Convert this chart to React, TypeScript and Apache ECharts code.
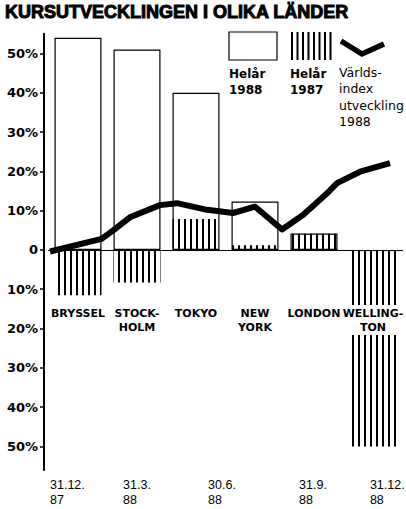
import React, { useEffect, useRef } from "react";
import * as echarts from "echarts";

const title = "KURSUTVECKLINGEN I OLIKA LÄNDER";
const categories = ["BRYSSEL", "STOCK-\nHOLM", "TOKYO", "NEW\nYORK", "LONDON", "WELLING-\nTON"];
const helar1988: (number | null)[] = [54, 51, 40, 12.3, 4.2, null];
const helar1987: number[] = [-11.5, -8.3, 7.9, 1.2, 4.1, -50];

// Världsindex: months since 31.12.87 and index change in %
const indexMonths = [0, 1.82, 2.29, 2.82, 3.88, 4.48, 5.54, 6.46, 7.24, 8.19, 8.93, 9.78, 10.13, 10.94, 12];
const indexValues = [-0.4, 2.8, 5.3, 8.3, 11.4, 11.9, 10.2, 9.4, 11.0, 5.2, 8.9, 14.4, 17.0, 19.9, 22.1];

const dateLabels = ["31.12.\n87", "31.3.\n88", "30.6.\n88", "31.9.\n88", "31.12.\n88"];
const dateTicks = [0, 2.58, 5.58, 8.79, 11.29];

const yTicks = [-50, -40, -30, -20, -10, 0, 10, 20, 30, 40, 50];

const legendLabels = ["Helår\n1988", "Helår\n1987", "Världs-\nindex\nutveckling\n1988"];

export default function App() {
  const ref = useRef<HTMLDivElement>(null);
  useEffect(() => {
    if (!ref.current) return;
    const chart = echarts.init(ref.current, null, { renderer: "svg" });
    const Y_MIN = -56;
    const Y_MAX = 55;
    const hatchLines: any[] = [];
    for (let i = 0; i < 8; i++) {
      hatchLines.push({
        type: "line",
        shape: { x1: 292 + i * 5.5, y1: 32, x2: 292 + i * 5.5, y2: 60 },
        style: { stroke: "#000", lineWidth: 2 },
      });
    }
    chart.setOption({
      animation: false,
      backgroundColor: "#fff",
      title: {
        text: title,
        left: 5,
        top: 3,
        padding: 0,
        textStyle: {
          fontFamily: "Liberation Sans",
          fontWeight: "bold",
          fontSize: 18,
          color: "#000",
          textBorderColor: "#000",
          textBorderWidth: 1,
        },
      },
      grid: [
        { left: 48.5, right: 3.5, top: 33.8, bottom: 39, outerBoundsMode: "none", containLabel: false },
        { left: 50, right: 16, top: 33.8, bottom: 39, outerBoundsMode: "none", containLabel: false },
        { left: 48.5, right: 3.5, top: 33.8, bottom: 509 - 304, outerBoundsMode: "none", containLabel: false },
      ],
      xAxis: [
        {
          type: "category",
          gridIndex: 0,
          data: categories,
          z: 10,
          axisLine: { onZero: true, lineStyle: { color: "#000", width: 1.2 } },
          axisTick: { show: false },
          axisLabel: { show: false },
        },
        {
          type: "value",
          gridIndex: 1,
          min: 0,
          max: 12,
          axisLine: { show: false, onZero: false },
          axisTick: { show: false },
          splitLine: { show: false },
          axisLabel: {
            customValues: dateTicks,
            formatter: (v: number) => {
              const i = dateTicks.indexOf(v);
              return i >= 0 ? dateLabels[i] : "";
            },
            align: "left",
            margin: 7,
            color: "#000",
            fontFamily: "Liberation Sans",
            fontSize: 12.5,
            lineHeight: 15,
          },
        },
        {
          type: "category",
          gridIndex: 2,
          data: categories,
          z: 10,
          axisLine: { show: false, onZero: false },
          axisTick: { show: false },
          axisLabel: {
            interval: 0,
            margin: 1,
            color: "#000",
            fontFamily: "DejaVu Sans",
            fontWeight: "bold",
            fontSize: 11,
            lineHeight: 14,
            align: "center",
            backgroundColor: "#fff",
            padding: [1, 2],
          },
        },
      ],
      yAxis: [
        {
          type: "value",
          gridIndex: 0,
          min: Y_MIN,
          max: Y_MAX,
          offset: 4.5,
          axisLine: { show: true, lineStyle: { color: "#000", width: 2 } },
          axisTick: { show: true, customValues: yTicks, length: 4, lineStyle: { color: "#000", width: 1.5 } },
          splitLine: { show: false },
          axisLabel: {
            customValues: yTicks,
            margin: 6,
            formatter: (v: number) => (v === 0 ? "0" : Math.abs(v) + "%"),
            color: "#000",
            fontFamily: "DejaVu Sans",
            fontWeight: "bold",
            fontSize: 13,
          },
        },
        {
          type: "value",
          gridIndex: 1,
          min: Y_MIN,
          max: Y_MAX,
          show: false,
        },
        {
          type: "value",
          gridIndex: 2,
          show: false,
        },
      ],
      series: [
        {
          name: "Helår 1988",
          type: "bar",
          xAxisIndex: 0,
          yAxisIndex: 0,
          data: helar1988,
          barWidth: 47,
          barGap: "-100%",
          itemStyle: { color: "#fff", borderColor: "#000", borderWidth: 1.2 },
          z: 2,
        },
        {
          name: "Helår 1987",
          type: "bar",
          xAxisIndex: 0,
          yAxisIndex: 0,
          data: helar1987,
          barWidth: 47,
          barGap: "-100%",
          itemStyle: {
            color: "rgba(255,255,255,0)",
            decal: {
              symbol: "rect",
              symbolSize: 1,
              color: "#000",
              dashArrayX: [1, 0],
              dashArrayY: [2, 3.5],
              rotation: Math.PI / 2,
            },
          },
          z: 3,
        },
        {
          name: "Världsindex utveckling 1988",
          type: "line",
          xAxisIndex: 1,
          yAxisIndex: 1,
          data: indexMonths.map((m, i) => [m, indexValues[i]]),
          symbol: "none",
          lineStyle: { color: "#000", width: 6, join: "round" },
          z: 5,
        },
      ],
      graphic: [
        {
          type: "rect",
          shape: { x: 229, y: 32, width: 48, height: 28 },
          style: { fill: "#fff", stroke: "#000", lineWidth: 1.2 },
        },
        ...hatchLines,
        {
          type: "polyline",
          shape: { points: [[341, 41], [362, 54], [384, 44]] },
          style: { stroke: "#000", lineWidth: 5.5, fill: null },
        },
        {
          type: "text",
          x: 229,
          y: 66,
          style: { text: legendLabels[0], font: 'bold 12px "DejaVu Sans"', fill: "#000", lineHeight: 16, verticalAlign: "top" },
        },
        {
          type: "text",
          x: 290,
          y: 66,
          style: { text: legendLabels[1], font: 'bold 12px "DejaVu Sans"', fill: "#000", lineHeight: 16, verticalAlign: "top" },
        },
        {
          type: "text",
          x: 339,
          y: 64,
          style: { text: legendLabels[2], font: '12.5px "DejaVu Sans"', fill: "#000", lineHeight: 16.5, verticalAlign: "top" },
        },
      ],
    });
    return () => chart.dispose();
  }, []);
  return <div ref={ref} style={{ position: "absolute", left: 0, top: 0, width: 406, height: 509 }} />;
}
